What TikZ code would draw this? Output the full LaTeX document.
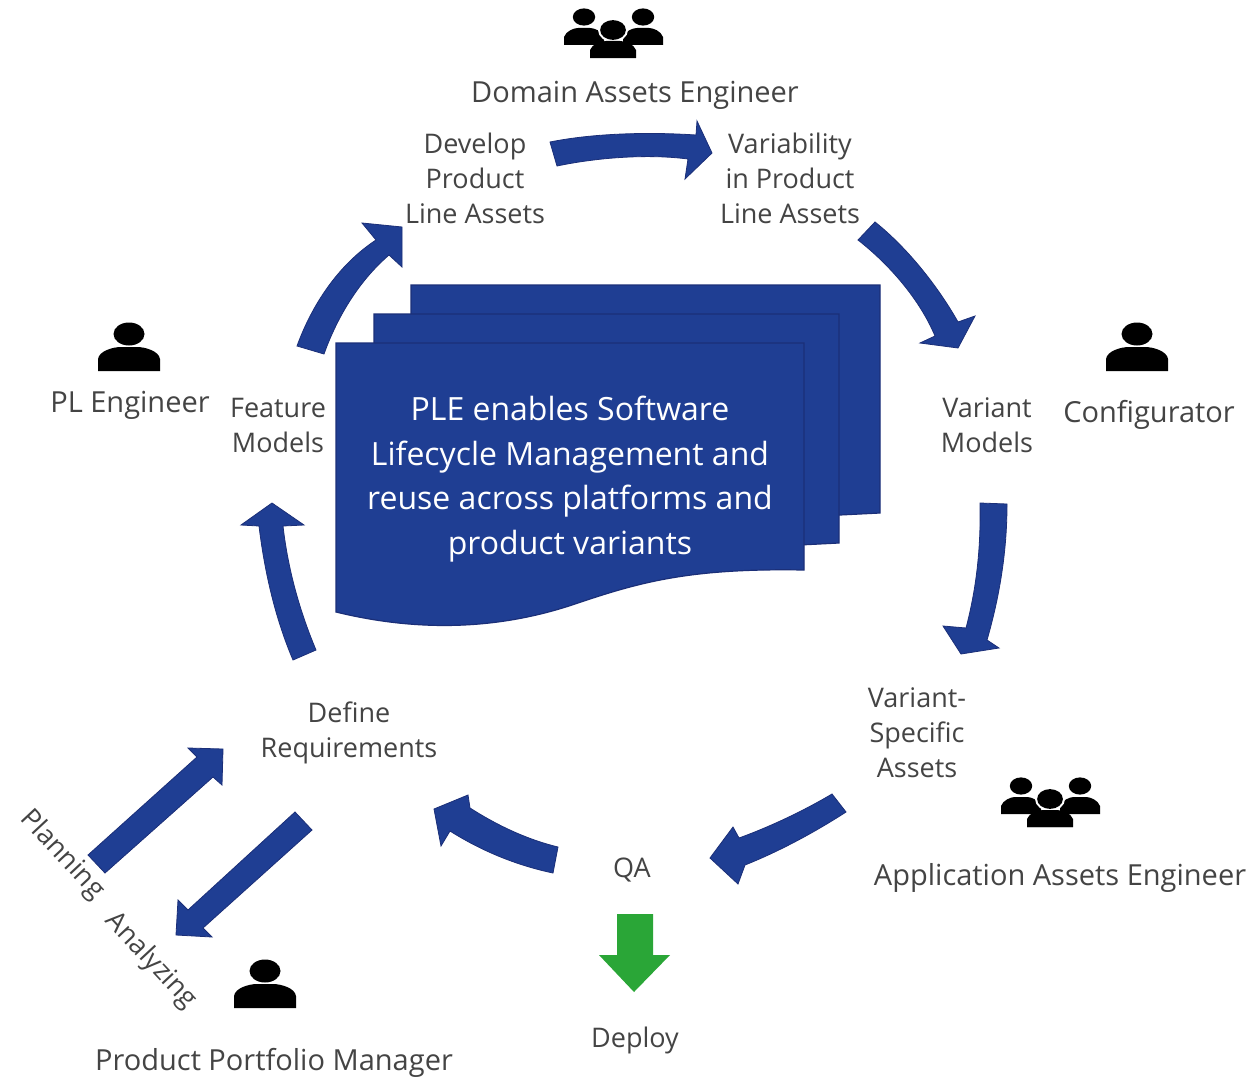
\documentclass[tikz,border=0pt]{standalone}
\usepackage{fontspec}
\setmainfont{Open Sans}
\tikzset{
  px/.style={x=1pt,y=-1pt},
  blockarrow/.style={fill=ple,draw=pledark,line width=0.8pt,line join=miter},
  sheet/.style={fill=ple,draw=pledark,line width=1.2pt},
  lab/.style={text=labc,align=center,font=\fontsize{27}{35}\selectfont,inner sep=0pt},
  role/.style={text=labc,align=center,font=\fontsize{29}{35}\selectfont,inner sep=0pt},
  sheettext/.style={text=white,align=center,font=\fontsize{32}{44.7}\selectfont,inner sep=0pt},
  person/.style={fill=black,draw=none},
}
\definecolor{ple}{HTML}{1F3E93}
\definecolor{pledark}{HTML}{1B2F78}
\definecolor{labc}{HTML}{444444}
\definecolor{go}{HTML}{2AA637}
\newcommand{\singleperson}[2]{%
  \fill[person] (#1,#2-13) ellipse[x radius=15.5,y radius=11.5];
  \fill[person] (#1-31,#2+24) -- (#1-31,#2+12) .. controls (#1-30,#2+4) and (#1-16,#2) .. (#1-8,#2)
     -- (#1+8,#2) .. controls (#1+16,#2) and (#1+30,#2+4) .. (#1+31,#2+12) -- (#1+31,#2+24) -- cycle;}
\newcommand{\smallbody}[4]{% cx, head cy, half width, body top
  \fill[person] (#1,#2) ellipse[x radius=#3*0.56,y radius=#3*0.43];
  \fill[person] (#1-#3,#4+17) -- (#1-#3,#4+9) .. controls (#1-#3+2,#4+3) and (#1-#3*0.5,#4) .. (#1-#3*0.3,#4)
    -- (#1+#3*0.3,#4) .. controls (#1+#3*0.5,#4) and (#1+#3-2,#4+3) .. (#1+#3,#4+9) -- (#1+#3,#4+17) -- cycle;}
\newcommand{\groupperson}[2]{% left edge, top
  \smallbody{#1+26}{#2+9}{20}{#2+20}
  \smallbody{#1+85}{#2+9}{20}{#2+20}
  \fill[white] (#1+55,#2+22) ellipse[x radius=15,y radius=12];
  \fill[white] (#1+28,#2+51) -- (#1+30,#2+38) -- (#1+80,#2+38) -- (#1+82,#2+51) -- cycle;
  \smallbody{#1+55}{#2+22}{23}{#2+33}
  \fill[person] (#1+32,#2+50) rectangle (#1+78,#2+50);}
\begin{document}
\begin{tikzpicture}[px]
\useasboundingbox (0,0) rectangle (1257,1081);
\fill[white] (0,0) rectangle (1257,1081);

% stacked sheets
\path[sheet] (411,285) -- (880,285) -- (880,513) -- (820,516) -- (700,540) -- (411,540) -- cycle;
\path[sheet] (374,314) -- (839,314) -- (839,543) -- (780,546) -- (660,570) -- (374,570) -- cycle;
\path[sheet] (336,343) -- (804,343) -- (804,570)
  .. controls (690,568) and (640,582) .. (575,604)
  .. controls (510,626) and (430,635) .. (336,612) -- cycle;
\node[sheettext] (central) at (570,479) {PLE enables Software\\Lifecycle Management and\\reuse across platforms and\\product variants};

% cycle arrows
\path[blockarrow] (550,142) .. controls (595,133) and (650,132) .. (696,135) -- (697,121) -- (712,153) -- (685,179) -- (688,159)
  .. controls (650,154) and (600,157) .. (557,166) -- cycle;
\path[blockarrow] (875,222) .. controls (910,250) and (940,290) .. (958,322) -- (975,316) -- (958,348) -- (920,343) -- (935,336)
  .. controls (920,300) and (890,265) .. (858,240) -- cycle;
\path[blockarrow] (980,503) .. controls (981,550) and (976,590) .. (966,628) -- (943,626) -- (961,654) -- (999,648) -- (987,640)
  .. controls (1000,595) and (1007,550) .. (1007,504) -- cycle;
\path[blockarrow] (846,812) .. controls (815,832) and (780,851) .. (745,865) -- (738,884) -- (710,858) -- (733,827) -- (739,838)
  .. controls (772,826) and (805,810) .. (832,794) -- cycle;
\path[blockarrow] (558,847) .. controls (525,839) and (495,824) .. (470,808) -- (468,795) -- (434,809) -- (441,846) -- (450,831)
  .. controls (480,850) and (515,865) .. (553,873) -- cycle;
\path[blockarrow] (293,660) .. controls (276,620) and (265,575) .. (259,526) -- (241,525) -- (272,503) -- (304,525) -- (283,526)
  .. controls (288,570) and (300,612) .. (316,650) -- cycle;
\path[blockarrow] (297,346) .. controls (312,305) and (338,265) .. (376,240) -- (362,223) -- (402,227) -- (402,267) -- (389,255)
  .. controls (360,280) and (338,315) .. (324,354) -- cycle;

% straight arrows
\path[blockarrow] (88,855) -- (197,757) -- (188,748) -- (223,749) -- (222,785) -- (213,777) -- (105,873) -- cycle;
\path[blockarrow] (295,812) -- (312,830) -- (203,928) -- (212,937) -- (176,935) -- (178,900) -- (188,910) -- cycle;

% deploy arrow
\path[fill=go] (617,914) -- (653,914) -- (653,955) -- (670,955) -- (634,992) -- (599,955) -- (617,955) -- cycle;

% people
\groupperson{558}{8}
\groupperson{995}{777}
\singleperson{129}{347}
\singleperson{1137}{347}
\singleperson{265}{984}

% labels
\node[role] (domain) at (635,95) {Domain Assets Engineer};
\node[role] (plengineer) at (130,405) {PL Engineer};
\node[role] (configurator) at (1149,415) {Configurator};
\node[role] (appeng) at (1060,878) {Application Assets Engineer};
\node[role] (ppm) at (274,1063) {Product Portfolio Manager};
\node[lab] (develop) at (475,178) {Develop\\Product\\Line Assets};
\node[lab] (variability) at (790,178) {Variability\\in Product\\Line Assets};
\node[lab] (feature) at (278,425) {Feature\\Models};
\node[lab] (variant) at (987,425) {Variant\\Models};
\node[lab] (specific) at (917,733) {Variant-\\Specific\\Assets};
\node[lab] (define) at (349,733) {Define\\Requirements};
\node[lab] (qa) at (632,870) {QA};
\node[lab] (deploy) at (635,1040) {Deploy};
\node[lab,rotate=-47] (planning) at (62,855) {Planning};
\node[lab,rotate=-47] (analyzing) at (151,961) {Analyzing};
\end{tikzpicture}
\end{document}
